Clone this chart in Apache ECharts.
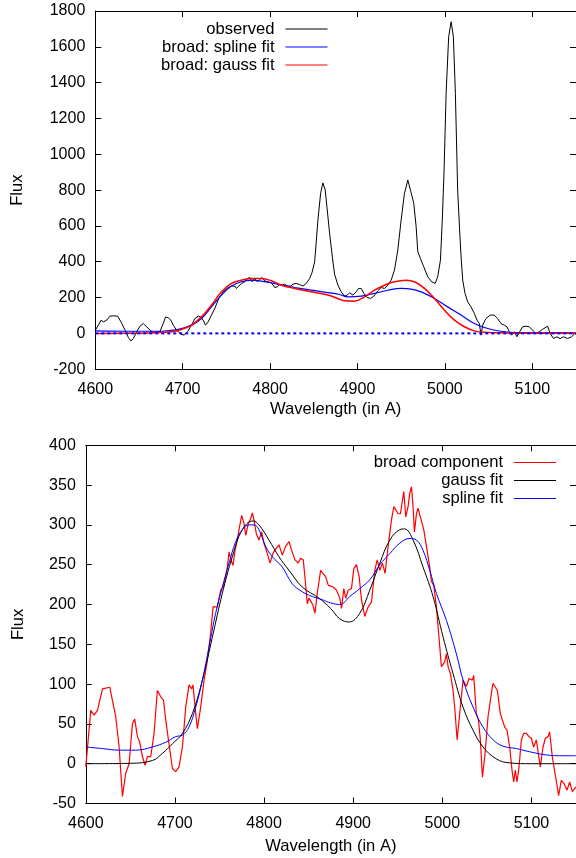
<!DOCTYPE html>
<html><head><meta charset="utf-8">
<script src="https://cdn.jsdelivr.net/npm/echarts@6/dist/echarts.min.js"></script>
<style>html,body{margin:0;padding:0;background:#fff}#c{width:576px;height:858px}</style>
</head><body><div id="c"></div>
<script>
// ---------- top panel: observed spectrum ----------
const obsWave = [4600,4603.5,4606.6,4609.2,4613,4616.8,4620.6,4625.6,4629.4,4634,4637.8,4640.8,4643.5,4647.3,4651.1,4654.9,4658.7,4662.5,4666.3,4670.1,4673.9,4677.7,4680.4,4683.5,4686.5,4689.2,4693,4698,4701.7,4705.5,4710.1,4713.9,4717.7,4720.8,4723.4,4726.1,4729.1,4732.9,4736.7,4741.3,4746.3,4752,4755.8,4759.6,4761.5,4764.2,4767.2,4771,4774.1,4776.7,4779.4,4782.4,4785.5,4788.1,4790.8,4793.9,4797.7,4801.5,4805.3,4808.3,4811,4813.7,4816.7,4819.7,4823.6,4826.2,4830,4833.8,4837.6,4841.4,4845.2,4848,4851,4854.7,4857.8,4860.4,4863.1,4865,4868.1,4871.2,4873.8,4877.6,4881.4,4885.2,4888.3,4890.9,4894.7,4898.5,4901.2,4904.3,4907.3,4911.1,4914.9,4918.7,4923.3,4927.1,4930.9,4934.7,4938.5,4942.3,4946.1,4949.9,4953.7,4957.6,4960.6,4964.4,4967.1,4969,4972,4975.8,4980.4,4985,4988.8,4991.8,4994.9,4997,4999,5001.4,5004.3,5007.1,5009.7,5012,5014.6,5016.6,5018.5,5020.4,5023,5026.1,5029.9,5033.7,5036.7,5039.4,5041.3,5043.2,5047,5051.9,5056.5,5060.3,5064.1,5067.9,5071,5073.7,5076.3,5079.4,5082.4,5085.5,5088.9,5092.7,5096.5,5100.3,5104.1,5107.9,5111.7,5117.5,5120.5,5124.3,5128.1,5131.9,5135.7,5140.3,5144.9,5148.7,5150];
const obsFlux = [18,46,74,64,74,96,98,96,64,18,-23,-42,-29,9,40,55,37,18,5,9,9,55,92,87,74,46,18,-4,-10,9,46,83,96,92,74,46,64,102,139,195,232,256,264,264,251,264,279,288,306,312,288,306,288,301,312,293,288,282,256,260,275,269,275,264,264,275,279,273,264,279,306,340,400,632,782,840,800,707,558,427,330,269,232,208,214,227,214,232,251,251,223,200,195,208,238,256,251,269,297,353,465,632,781,856,800,726,595,456,418,372,316,288,279,316,409,632,900,1340,1656,1740,1656,1340,800,600,428,297,223,176,148,111,74,55,-10,46,83,102,102,83,55,46,37,9,-10,9,-19,9,37,40,37,18,-1,9,22,40,-1,-29,-19,-29,-19,-29,-19,-1,-5];
const topSplineWave = [4600,4637.8,4675.8,4694.9,4710.1,4721.5,4733,4744.4,4755.8,4767.2,4778.6,4790,4801.5,4812.9,4828.1,4847.1,4866.2,4879.5,4889,4904.3,4919.5,4934.7,4950,4961.4,4972.8,4988,5003.2,5018.5,5033.7,5049,5064.1,5079.4,5102.2,5150];
const topSplineFlux = [14,12,12,22,46,83,148,214,264,288,297,292,282,269,256,241,228,217,204,208,223,241,251,247,232,195,148,102,55,27,12,5,3,3];
const topGaussWave = [4600,4650,4687.3,4698.7,4710.1,4721.5,4733,4744.4,4755.8,4767.2,4778.6,4790,4801.5,4812.9,4828.1,4847.1,4866.2,4879.5,4885.2,4896.6,4908.1,4919.5,4930.9,4942.3,4955.6,4965.2,4976.6,4988,4999.4,5010.9,5022.3,5033.7,5049,5064.1,5100,5150];
const topGaussFlux = [0,1,9,22,46,92,158,232,279,297,306,306,294,269,251,232,214,191,182,180,204,241,269,288,297,288,251,195,130,74,37,14,5,3,1,1];
const zeroWave = [4600,5150];
const zeroFlux = [0,0];

// ---------- bottom panel: broad component ----------
const broadWave = [4600,4605.6,4609.3,4613.1,4618.7,4626.9,4633.6,4637.4,4641.1,4644.8,4648.6,4652.3,4654.9,4657.9,4660.5,4663.5,4666.5,4669.1,4672.9,4676.6,4680.3,4684.1,4687.1,4689.7,4692.7,4697.2,4700.9,4704.6,4708.4,4712.1,4715.8,4718.8,4720.3,4722.6,4725.2,4728.9,4732.7,4736.4,4740.1,4742.8,4747.6,4751.3,4754,4756.2,4758.8,4760.7,4762.9,4765.2,4767.4,4770,4771.9,4774.9,4777.5,4779.4,4782.4,4785,4786.9,4788.7,4791.3,4794.3,4797.3,4799.9,4803.7,4806.7,4810,4811.9,4814.1,4816.7,4820.5,4824.2,4828,4830.9,4834.7,4838.4,4841,4844,4846.6,4848.5,4850.4,4853,4854.9,4857.1,4859.7,4863.5,4866.1,4869.1,4872.1,4875,4877.5,4881.3,4885,4886.9,4889.5,4891.7,4894.4,4898.1,4900.7,4903.7,4906.7,4909.3,4913,4916.8,4920.5,4924.3,4926.9,4929.9,4932.8,4935.8,4939.2,4942.9,4945.6,4947.8,4950.4,4953,4956.8,4959,4961.6,4963.5,4965.4,4967.2,4968.7,4971,4972.8,4975.4,4979.2,4982.9,4985.9,4987.8,4990.4,4993.4,4995.3,4999,5002.7,5004.6,5006.5,5009.1,5012.1,5013.9,5016.6,5019.5,5023.3,5027,5030,5033.7,5035.2,5038.2,5040.5,5042.7,5045,5048,5051.3,5055,5056.9,5058.8,5061.8,5065.1,5070,5072.6,5075.6,5078.2,5080.1,5081.9,5083.8,5086.1,5088.7,5091.3,5094.3,5097.3,5099.9,5102.5,5105.5,5107.7,5110,5113,5115.6,5118.6,5120.4,5123.4,5127.2,5130.5,5133.5,5136.5,5139.9,5142.9,5145.9,5150];
const broadFlux = [-4,67,61,67,94,96,59,21,-41,-12,0,50,56,34,27,9,-2,9,9,38,92,84,80,55,30,-6,-10,-4,21,71,99,94,99,71,44,71,105,130,164,197,197,218,222,231,247,266,256,249,268,281,294,312,302,287,302,308,315,306,289,281,291,277,264,252,264,268,266,275,262,273,279,268,256,252,258,256,226,201,208,203,199,189,214,243,239,235,224,223,222,218,208,195,220,208,218,220,245,250,235,206,185,197,203,243,256,243,252,239,273,306,323,323,314,314,342,310,323,340,348,323,291,314,321,310,294,268,247,229,224,197,172,122,128,138,122,113,92,71,30,63,105,97,107,105,111,63,55,30,-17,13,59,88,101,103,92,63,46,42,21,-8,-23,-8,-23,-4,30,38,38,34,32,21,30,13,-4,21,32,34,40,9,-17,-40,-21,-25,-33,-23,-35,-29,-21];
const gaussWave = [4600,4650,4674.7,4686,4697.2,4708.4,4719.6,4730.8,4742,4753.2,4764.4,4775.6,4787.5,4794.3,4805.5,4816.7,4828,4842.9,4861.6,4874.7,4885,4895.5,4907.4,4918.6,4929.9,4941.1,4952.3,4957.5,4967.2,4978.4,4989.6,5000.9,5012.1,5023.3,5034.5,5045.7,5060.6,5075.6,5100,5150];
const gaussFlux = [0,0.5,4,13,25,38,63,105,159,214,260,294,305,300,281,260,243,222,208,195,182,178,189,218,252,281,294,295,281,247,210,159,113,71,42,21,6,1,0,0];
const splineWave = [4600,4618.7,4637.4,4656,4674.7,4689.7,4700.9,4708.4,4715.8,4723.3,4730.8,4738.3,4745.7,4753.2,4760.7,4768.2,4775.6,4783.1,4788.7,4794.3,4801.8,4809.3,4820.5,4831.7,4842.9,4854.1,4865.3,4874.7,4885,4896.2,4907.4,4918.6,4929.9,4941.1,4952.3,4963.5,4971,4978.4,4985.9,4993.4,5004.6,5015.8,5023.3,5034.5,5045.7,5057,5068.1,5083.1,5098,5116.7,5135.4,5150];
const splineFlux = [21,19,17,17,21,27,34,36,46,71,105,147,189,222,252,279,294,300,300,294,273,260,247,226,216,210,206,202,200,210,220,231,250,264,277,283,281,268,243,214,180,138,105,71,46,30,22,19,15,11,10,10];

function zip(xs, ys){ return xs.map((x,i)=>[x, ys[i]]); }

const FONT = 'Liberation Sans';
const txt = {fontFamily: FONT, fontSize: 16, color: '#000'};
const txtBig = {fontFamily: FONT, fontSize: 16.6, color: '#000'};
const plain = v => String(v);

function xAx(grid, gap){
  return [{
    type:'value', gridIndex:grid, min:4600, max:5150, interval:100,
    name:'Wavelength (in A)', nameLocation:'middle', nameGap:gap, nameTextStyle:txtBig,
    axisLine:{show:true, onZero:false, lineStyle:{color:'#000', width:1}},
    axisTick:{show:true, inside:true, length:6, lineStyle:{color:'#000'}},
    axisLabel:Object.assign({margin:12, showMaxLabel:false, formatter:plain}, txt),
    splitLine:{show:false}
  },{
    type:'value', gridIndex:grid, position:'top', min:4600, max:5150, interval:100,
    axisLine:{show:true, onZero:false, lineStyle:{color:'#000', width:1}},
    axisTick:{show:true, inside:true, length:6, lineStyle:{color:'#000'}},
    axisLabel:{show:false}, splitLine:{show:false}
  }];
}
function yAx(grid, min, max, interval, gap){
  return [{
    type:'value', gridIndex:grid, min:min, max:max, interval:interval,
    name:'Flux', nameLocation:'middle', nameGap:gap, nameTextStyle:txtBig,
    axisLine:{show:true, onZero:false, lineStyle:{color:'#000', width:1}},
    axisTick:{show:true, inside:true, length:6, lineStyle:{color:'#000'}},
    axisLabel:Object.assign({margin:10, formatter:plain}, txt),
    splitLine:{show:false}
  },{
    type:'value', gridIndex:grid, position:'right', min:min, max:max, interval:interval,
    axisLine:{show:true, onZero:false, lineStyle:{color:'#000', width:1}},
    axisTick:{show:true, inside:true, length:6, lineStyle:{color:'#000'}},
    axisLabel:{show:false}, splitLine:{show:false}
  }];
}

function line(name, xi, yi, xs, ys, color, width, smooth, type){
  return {
    name:name, type:'line', xAxisIndex:xi, yAxisIndex:yi, data:zip(xs, ys),
    symbol:'none', showSymbol:false, smooth:smooth, silent:true,
    lineStyle:{color:color, width:width, type:type||'solid'}, itemStyle:{color:color}
  };
}

const legendBase = {orient:'vertical', align:'right', padding:0, itemGap:1, itemWidth:42, itemHeight:10,
  itemStyle:{opacity:0}, lineStyle:{width:1},
  textStyle:Object.assign({lineHeight:16, padding:[0,6,0,0]}, txtBig), selectedMode:false};

const chart = echarts.init(document.getElementById('c'), null, {renderer:'canvas'});
chart.setOption({
  animation:false,
  backgroundColor:'#fff',
  grid:[
    {left:95.3, top:11, width:481.5, height:358.2},
    {left:85.8, top:445.3, width:490.8, height:358.2}
  ],
  xAxis:[].concat(xAx(0, 32), xAx(1, 34)),
  yAxis:[].concat(yAx(0, -200, 1800, 200, 69), yAx(1, -50, 400, 50, 59)),
  legend:[
    Object.assign({data:['observed','broad: spline fit','broad: gauss fit'], right:248, top:20.5}, legendBase),
    Object.assign({data:['broad component','gauss fit','spline fit'], right:19.5, top:454}, legendBase)
  ],
  series:[
    line('observed', 0, 0, obsWave, obsFlux, '#000000', 1, false),
    line('broad: spline fit', 0, 0, topSplineWave, topSplineFlux, '#0000ff', 1.2, 0.4),
    line('broad: gauss fit', 0, 0, topGaussWave, topGaussFlux, '#ff0000', 1.5, 0.4),
    line('zero', 0, 0, zeroWave, zeroFlux, '#0000ff', 2, false, [3,3]),
    line('broad component', 2, 2, broadWave, broadFlux, '#ff0000', 1.2, false),
    line('gauss fit', 2, 2, gaussWave, gaussFlux, '#000000', 1, 0.4),
    line('spline fit', 2, 2, splineWave, splineFlux, '#0000ff', 1, 0.4)
  ]
});
</script></body></html>
